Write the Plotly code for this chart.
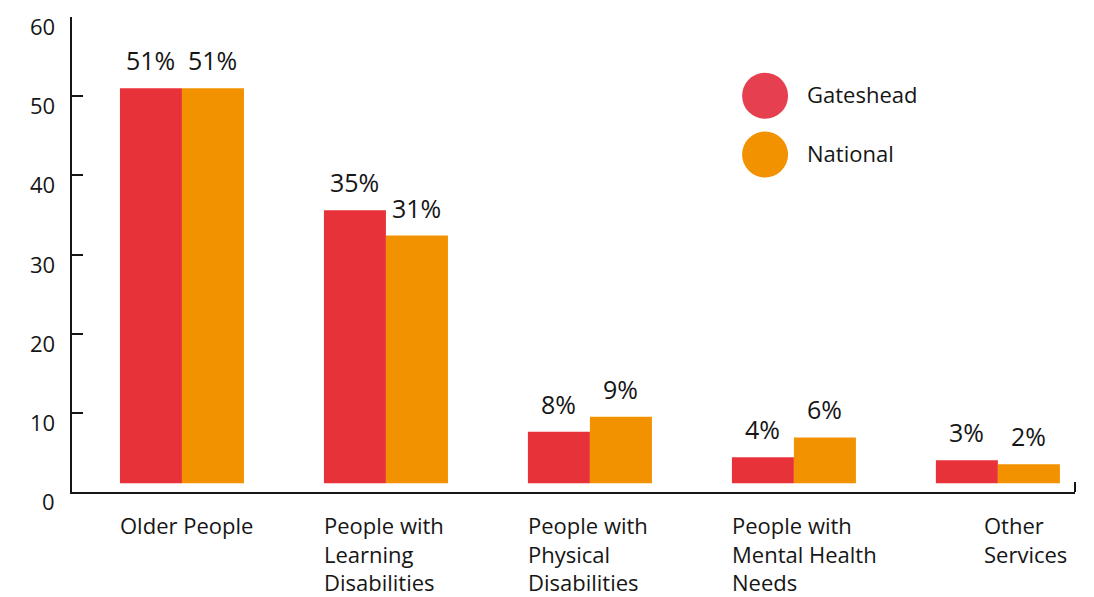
import plotly.graph_objects as go

categories = ["Older People", "People with Learning Disabilities", "People with Physical Disabilities",
              "People with Mental Health Needs", "Other Services"]
category_labels = ["Older People", "People with<br>Learning<br>Disabilities", "People with<br>Physical<br>Disabilities",
                   "People with<br>Mental Health<br>Needs", "Other<br>Services"]
series_names = ["Gateshead", "National"]
gateshead_pct = ["51%", "35%", "8%", "4%", "3%"]
national_pct = ["51%", "31%", "9%", "6%", "2%"]
# bar tops as drawn in the picture (axis units)
gateshead_top = [51.0, 35.6, 7.6, 4.4, 4.0]
national_top = [51.0, 32.4, 9.5, 6.9, 3.5]
bar_base = 1.1
y_ticks = [0, 10, 20, 30, 40, 50, 60]

RED = "#E8323A"
ORANGE = "#F29200"
LEG_RED = "#E64050"
INK = "#161616"
FONT = "Open Sans"
FS = 22

fig = go.Figure()
annotations = []
for name, tops, pct, col, off in [(series_names[0], gateshead_top, gateshead_pct, RED, -31),
                                  (series_names[1], national_top, national_pct, ORANGE, 31)]:
    fig.add_trace(go.Bar(
        x=categories, y=[t - bar_base for t in tops], base=bar_base, name=name,
        marker=dict(color=col, line=dict(width=0)),
        showlegend=False, hoverinfo="skip"))
    for c, t, p in zip(categories, tops, pct):
        annotations.append(dict(x=c, xref="x", y=t, yref="y", text=p, showarrow=False,
                                xanchor="center", yanchor="bottom", xshift=off, yshift=9,
                                font=dict(family=FONT, size=25, color=INK)))

# y tick labels (offset slightly below tick marks as in reference)
for v in y_ticks:
    annotations.append(dict(x=0, xref="paper", y=v, yref="y", text=str(v), showarrow=False,
                            xanchor="right", yanchor="middle", xshift=-15, yshift=-9,
                            font=dict(family=FONT, size=FS, color=INK)))
# category labels, left aligned
shifts = [-63, -63, -63, -63, -15]
for c, lab, s in zip(categories, category_labels, shifts):
    annotations.append(dict(x=c, xref="x", y=0, yref="paper", text=lab, showarrow=False,
                            xanchor="left", yanchor="top", align="left", xshift=s, yshift=-17,
                            borderpad=0, font=dict(family=FONT, size=FS, color=INK)))
# legend
shapes = []
for name, col, py in [(series_names[0], LEG_RED, 0.834), (series_names[1], ORANGE, 0.7105)]:
    shapes.append(dict(type="circle", xref="paper", yref="paper", xsizemode="pixel", ysizemode="pixel",
                       xanchor=0.691, yanchor=py, x0=-23, x1=23, y0=-23, y1=23,
                       fillcolor=col, line=dict(width=0)))
    annotations.append(dict(x=0.731, xref="paper", y=py, yref="paper", text=name, showarrow=False,
                            xanchor="left", yanchor="middle", yshift=2,
                            font=dict(family=FONT, size=FS, color=INK)))
# small end tick on x axis
shapes.append(dict(type="line", xref="paper", yref="paper", x0=1, x1=1, ysizemode="pixel", yanchor=0,
                   y0=0, y1=10, line=dict(color=INK, width=2)))

fig.update_layout(
    width=1094, height=597,
    margin=dict(l=72, r=19, t=17, b=105),
    paper_bgcolor="white", plot_bgcolor="white",
    barmode="group", bargap=0.392, bargroupgap=0,
    font=dict(family=FONT, size=FS, color=INK),
    xaxis=dict(type="category", range=[-0.539, 4.378], showline=True, linecolor=INK, linewidth=2,
               showticklabels=False, ticks="", showgrid=False, zeroline=False),
    yaxis=dict(range=[0, 60], showline=True, linecolor=INK, linewidth=2, tickvals=y_ticks,
               ticks="inside", ticklen=11, tickwidth=2, tickcolor=INK, showticklabels=False,
               showgrid=False, zeroline=False),
    annotations=annotations, shapes=shapes,
)
fig.write_html("out.html")
